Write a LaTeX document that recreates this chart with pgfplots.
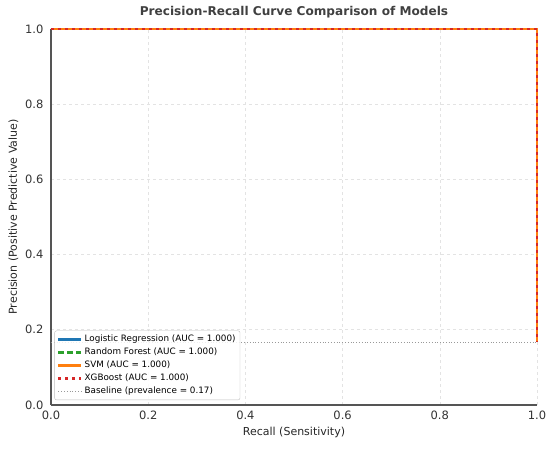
\documentclass[border=0pt]{standalone}
\usepackage{pgfplots}
\pgfplotsset{compat=1.18}
\usepackage{fontspec}
\setmainfont{DejaVu Sans}
\definecolor{cblue}{HTML}{1F77B4}
\definecolor{cgreen}{HTML}{2CA02C}
\definecolor{corange}{HTML}{FF7F0E}
\definecolor{cred}{HTML}{D62728}
\definecolor{spine}{HTML}{555555}
\begin{document}
\begin{tikzpicture}[x=1pt,y=1pt]
\path[use as bounding box] (-51,-44) rectangle (499,405);
\begin{axis}[
  at={(0,0)}, anchor=south west,
  scale only axis, width=486pt, height=376pt,
  xmin=0, xmax=1, ymin=0, ymax=1,
  xtick={0,0.2,0.4,0.6,0.8,1.0}, ytick={0,0.2,0.4,0.6,0.8,1.0},
  /pgf/number format/fixed, /pgf/number format/fixed zerofill, /pgf/number format/precision=1,
  /pgf/number format/assume math mode=true,
  tick label style={font=\fontsize{11.5}{13}\selectfont, text=black!80},
  xticklabel style={yshift=-2pt},
  yticklabel style={xshift=-4pt},
  axis x line*=bottom, axis y line*=left,
  axis line style={spine, line width=1.1pt, -},
  tick style={draw=none},
  grid=major,
  major grid style={gray!22, dashed, line width=0.6pt},
  xlabel={Recall (Sensitivity)},
  ylabel={Precision (Positive Predictive Value)},
  label style={font=\fontsize{11}{13}\selectfont, text=black!85},
  xlabel style={yshift=-1pt},
  ylabel style={yshift=0pt},
  title={\textbf{Precision-Recall Curve Comparison of Models}},
  title style={font=\fontsize{12.1}{14}\selectfont, text=black!75, yshift=1pt},
  clip=false,
  legend cell align=left,
  legend style={at={(0.007,0.013)}, anchor=south west,
    font=\fontsize{8.8}{11}\selectfont, draw=black!25, rounded corners=2pt,
    fill=white, fill opacity=0.85, text opacity=1, row sep=0.8pt,
    inner xsep=2.5pt, inner ysep=2.5pt},
  legend image code/.code={\draw[#1] (0pt,0pt) -- (23pt,0pt);},
]
\addplot[cblue, line width=2.4pt] coordinates {(0,1) (1,1) (1,0.1667)};
\addlegendentry{Logistic Regression (AUC = 1.000)}
\addplot[cgreen, line width=2.4pt, dash pattern=on 6pt off 3pt] coordinates {(0,1) (1,1) (1,0.1667)};
\addlegendentry{Random Forest (AUC = 1.000)}
\addplot[corange, line width=2.4pt] coordinates {(0,1) (1,1) (1,0.1667)};
\addlegendentry{SVM (AUC = 1.000)}
\addplot[cred, line width=2.6pt, dash pattern=on 3pt off 4pt] coordinates {(0,1) (1,1) (1,0.1667)};
\addlegendentry{XGBoost (AUC = 1.000)}
\addplot[gray!80, line width=1pt, dash pattern=on 1pt off 1.8pt] coordinates {(0,0.1667) (1,0.1667)};
\addlegendentry{Baseline (prevalence = 0.17)}
\end{axis}
\end{tikzpicture}
\end{document}
